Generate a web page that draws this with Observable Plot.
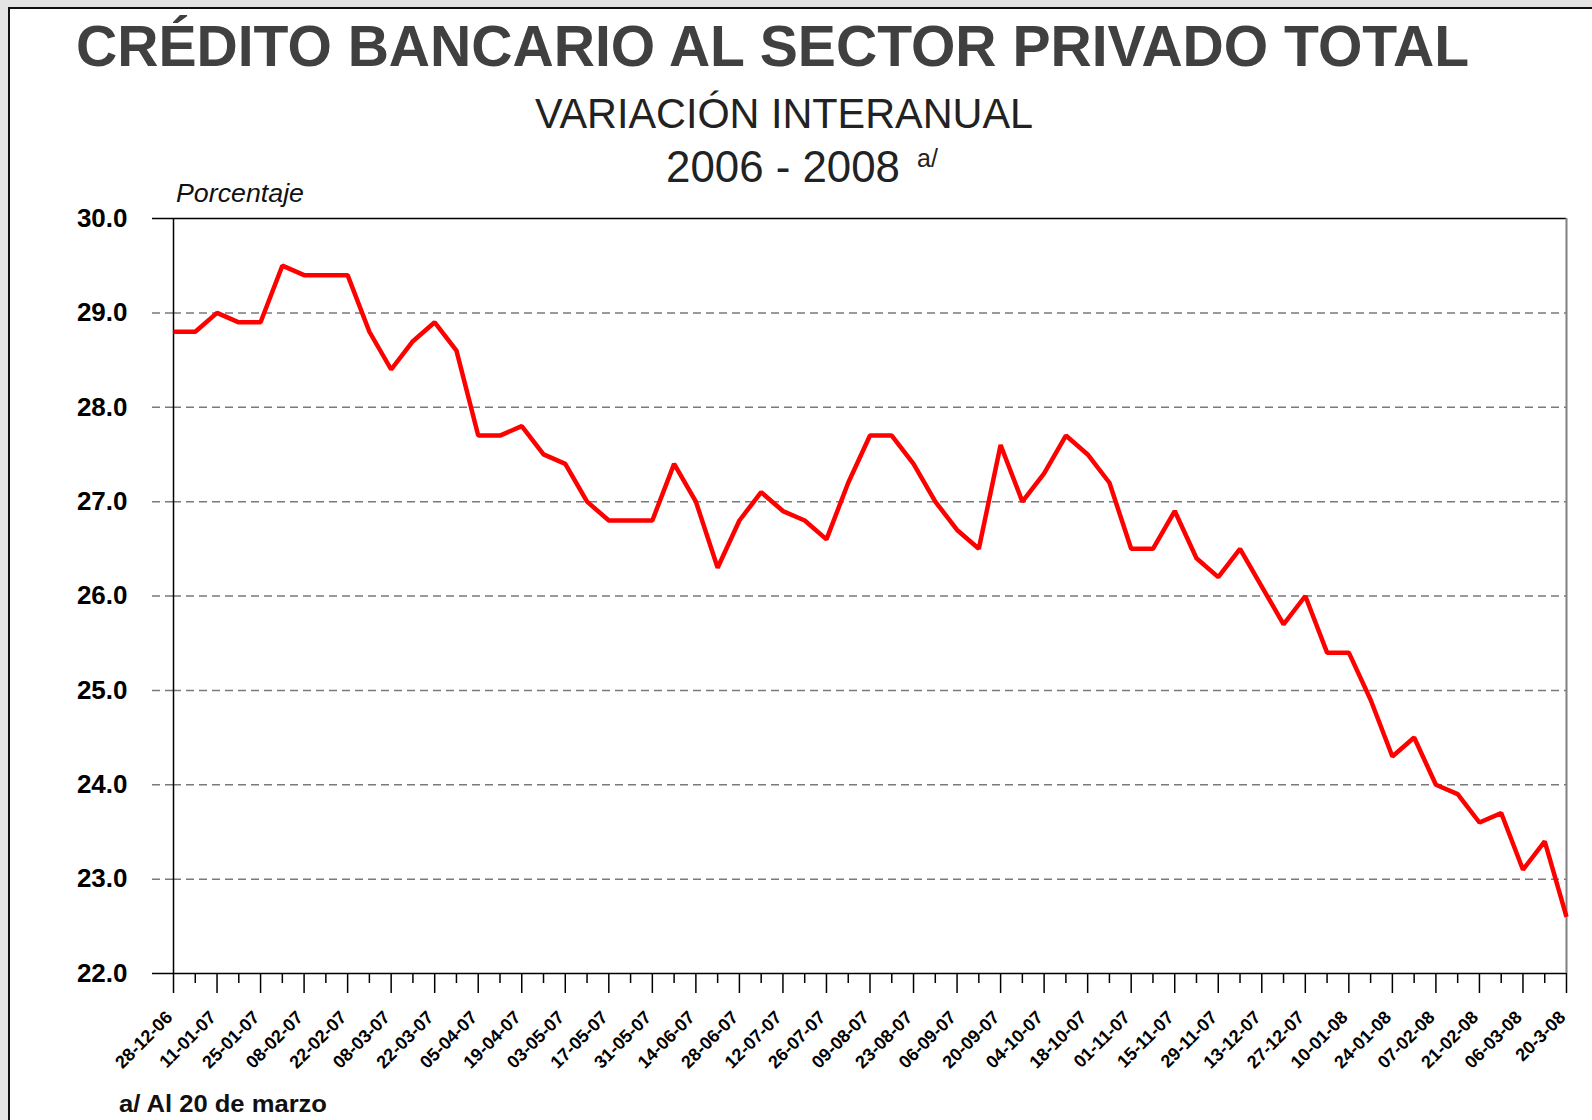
<!DOCTYPE html>
<html>
<head>
<meta charset="utf-8">
<script src="https://cdn.jsdelivr.net/npm/d3@7"></script>
<script src="https://cdn.jsdelivr.net/npm/@observablehq/plot@0.6"></script>
<style>
  html, body { margin: 0; padding: 0; }
  body { width: 1592px; height: 1120px; overflow: hidden; background: #e4e4e4;
         font-family: "Liberation Sans", Arial, sans-serif; position: relative; }
  #sheet { position: absolute; left: 8px; top: 7px; width: 1584px; height: 1113px; box-sizing: border-box;
           background: #fff; border-left: 2px solid #111; border-top: 2px solid #111; }
  #head, #chart, #foot { position: absolute; left: 0; }
  #head { top: 0; }
  #chart { top: 205px; }
  #foot { top: 1085px; }
  svg text { font-family: "Liberation Sans", Arial, sans-serif; }
</style>
</head>
<body>
<div id="sheet"></div>
<svg id="head" width="1592" height="210">
  <text x="76" y="66" font-size="58" font-weight="bold" fill="#404040" textLength="1393" lengthAdjust="spacingAndGlyphs">CRÉDITO BANCARIO AL SECTOR PRIVADO TOTAL</text>
  <text x="535" y="128" font-size="42" fill="#222" textLength="498" lengthAdjust="spacingAndGlyphs">VARIACIÓN INTERANUAL</text>
  <text x="666" y="182" font-size="44" fill="#222" textLength="234" lengthAdjust="spacingAndGlyphs">2006 - 2008</text>
  <text x="917" y="167" font-size="25" fill="#222">a/</text>
  <text x="176" y="202" font-size="26" font-style="italic" fill="#111" textLength="128" lengthAdjust="spacingAndGlyphs">Porcentaje</text>
</svg>
<div id="chart"></div>
<svg id="foot" width="600" height="35">
  <text x="119" y="27" font-size="23" font-weight="bold" fill="#111" textLength="208" lengthAdjust="spacingAndGlyphs">a/ Al 20 de marzo</text>
</svg>
<script>
// Weekly observation dates
const weeks = ["28-12-06","04-01-07","11-01-07","18-01-07","25-01-07","01-02-07","08-02-07","15-02-07","22-02-07","01-03-07",
  "08-03-07","15-03-07","22-03-07","29-03-07","05-04-07","12-04-07","19-04-07","26-04-07","03-05-07","10-05-07",
  "17-05-07","24-05-07","31-05-07","07-06-07","14-06-07","21-06-07","28-06-07","05-07-07","12-07-07","19-07-07",
  "26-07-07","02-08-07","09-08-07","16-08-07","23-08-07","30-08-07","06-09-07","13-09-07","20-09-07","27-09-07",
  "04-10-07","11-10-07","18-10-07","25-10-07","01-11-07","08-11-07","15-11-07","22-11-07","29-11-07","06-12-07",
  "13-12-07","20-12-07","27-12-07","03-01-08","10-01-08","17-01-08","24-01-08","31-01-08","07-02-08","14-02-08",
  "21-02-08","28-02-08","06-03-08","13-03-08","20-3-08"];

// Year-on-year variation (%)
const values = [28.8,28.8,29.0,28.9,28.9,29.5,29.4,29.4,29.4,28.8,
  28.4,28.7,28.9,28.6,27.7,27.7,27.8,27.5,27.4,27.0,
  26.8,26.8,26.8,27.4,27.0,26.3,26.8,27.1,26.9,26.8,
  26.6,27.2,27.7,27.7,27.4,27.0,26.7,26.5,27.6,27.0,
  27.3,27.7,27.5,27.2,26.5,26.5,26.9,26.4,26.2,26.5,
  26.1,25.7,26.0,25.4,25.4,24.9,24.3,24.5,24.0,23.9,
  23.6,23.7,23.1,23.4,22.6];

// Labelled ticks (every second week)
const tickLabels = ["28-12-06","11-01-07","25-01-07","08-02-07","22-02-07","08-03-07","22-03-07","05-04-07","19-04-07",
  "03-05-07","17-05-07","31-05-07","14-06-07","28-06-07","12-07-07","26-07-07","09-08-07","23-08-07","06-09-07",
  "20-09-07","04-10-07","18-10-07","01-11-07","15-11-07","29-11-07","13-12-07","27-12-07","10-01-08","24-01-08",
  "07-02-08","21-02-08","06-03-08","20-3-08"];
const yTicks = [22, 23, 24, 25, 26, 27, 28, 29, 30];
const gridTicks = [23, 24, 25, 26, 27, 28, 29];
const frameTicks = [22, 30];

const data = weeks.map((w, i) => ({week: w, value: values[i]}));
const majorWeeks = tickLabels.map((l, i) => weeks[i * 2]);
const minorWeeks = weeks.filter((w, i) => i % 2 === 1);
const tickData = tickLabels.map((l, i) => ({week: majorWeeks[i], label: l}));

const chart = Plot.plot({
  width: 1592,
  height: 880,
  marginTop: 13,
  marginBottom: 112,
  marginLeft: 173,
  marginRight: 26,
  style: {background: "transparent", color: "#000", overflow: "visible", fontFamily: "Liberation Sans, Arial, sans-serif"},
  x: {type: "point", domain: weeks, padding: 0},
  y: {domain: [22, 30]},
  marks: [
    Plot.gridY({ticks: gridTicks, stroke: "#7a7a7a", strokeOpacity: 1, strokeWidth: 1.5, strokeDasharray: "8,5"}),
    Plot.axisY({ticks: gridTicks, tickSize: 21, fill: "none", stroke: "#7a7a7a", strokeWidth: 1.5, strokeDasharray: "8,5"}),
    Plot.axisY({ticks: frameTicks, tickSize: 21, fill: "none", stroke: "#000", strokeWidth: 1.5}),
    Plot.axisY({ticks: yTicks, tickSize: 0, tickPadding: 46, tickFormat: d3.format(".1f"), fontSize: 26, fontWeight: "bold", label: null}),
    Plot.ruleY(frameTicks, {stroke: "#000", strokeWidth: 1.5}),
    Plot.ruleX([weeks[0]], {stroke: "#000", strokeWidth: 1.5}),
    Plot.ruleX([weeks[weeks.length - 1]], {stroke: "#808080", strokeWidth: 2}),
    Plot.axisX({ticks: majorWeeks, tickSize: 20, fill: "none", stroke: "#000", strokeWidth: 1.5}),
    Plot.axisX({ticks: minorWeeks, tickSize: 10, fill: "none", stroke: "#000", strokeWidth: 1.5}),
    Plot.text(tickData, {x: "week", text: "label", frameAnchor: "bottom", rotate: -45, textAnchor: "end",
      lineAnchor: "bottom", dy: 45, fontSize: 18, fontWeight: "bold", fill: "#000"}),
    Plot.line(data, {x: "week", y: "value", stroke: "#ff0000", strokeWidth: 4.5, strokeLinejoin: "miter", strokeLinecap: "butt"})
  ]
});
document.getElementById("chart").appendChild(chart);
</script>
</body>
</html>
